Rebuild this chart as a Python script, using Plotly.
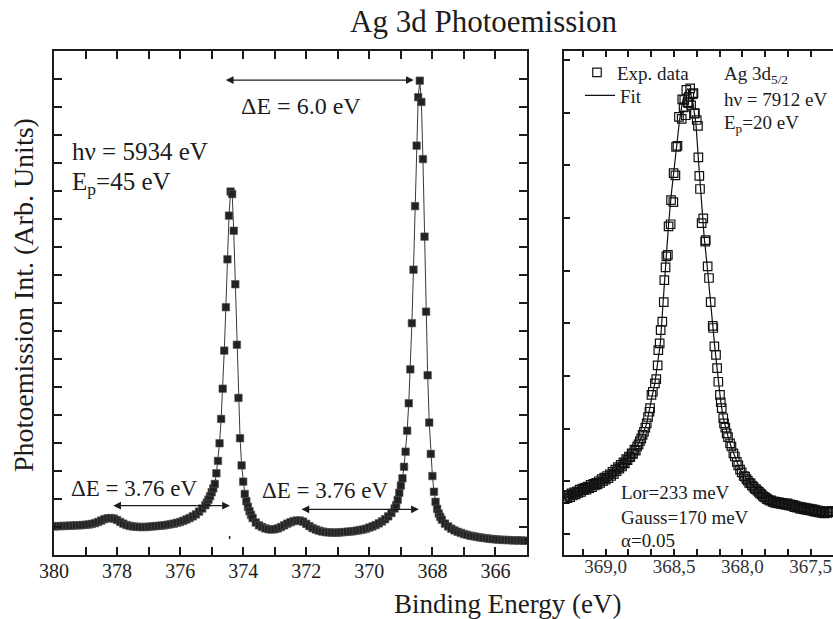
import plotly.graph_objects as go

# ---------------- data ----------------
# Left panel: Ag 3d spectrum (hv = 5934 eV)
left_energy = [
    380.0, 379.9, 379.8, 379.7, 379.6, 379.5, 379.4, 379.3, 379.2, 379.1,
    379.0, 378.9, 378.8, 378.7, 378.6, 378.5, 378.4, 378.3, 378.2, 378.1,
    378.0, 377.9, 377.8, 377.7, 377.6, 377.5, 377.4, 377.3, 377.2, 377.1,
    377.0, 376.9, 376.8, 376.7, 376.6, 376.5, 376.4, 376.3, 376.2, 376.1,
    376.0, 375.9, 375.8, 375.7, 375.6, 375.5, 375.4, 375.3, 375.2, 375.15,
    375.1, 375.05, 375.0, 374.95, 374.9, 374.85, 374.8, 374.75, 374.7, 374.65,
    374.6, 374.55, 374.5, 374.45, 374.4, 374.35, 374.3, 374.25, 374.2, 374.15,
    374.1, 374.05, 374.0, 373.95, 373.9, 373.85, 373.8, 373.75, 373.7, 373.6,
    373.5, 373.4, 373.3, 373.2, 373.1, 373.0, 372.9, 372.8, 372.7, 372.6,
    372.5, 372.4, 372.3, 372.2, 372.1, 372.0, 371.9, 371.8, 371.7, 371.6,
    371.5, 371.4, 371.3, 371.2, 371.1, 371.0, 370.9, 370.8, 370.7, 370.6,
    370.5, 370.4, 370.3, 370.2, 370.1, 370.0, 369.9, 369.8, 369.7, 369.6,
    369.5, 369.4, 369.3, 369.2, 369.15, 369.1, 369.05, 369.0, 368.95, 368.9,
    368.85, 368.8, 368.75, 368.7, 368.65, 368.6, 368.55, 368.5, 368.45, 368.4,
    368.35, 368.3, 368.25, 368.2, 368.15, 368.1, 368.05, 368.0, 367.95, 367.9,
    367.85, 367.8, 367.75, 367.7, 367.6, 367.5, 367.4, 367.3, 367.2, 367.1,
    367.0, 366.9, 366.8, 366.7, 366.6, 366.5, 366.4, 366.3, 366.2, 366.1,
    366.0, 365.9, 365.8, 365.7, 365.6, 365.5, 365.4, 365.3, 365.2, 365.1,
    365.0,
]
left_intensity = [
    1.02, 1.03, 1.03, 1.04, 1.04, 1.05, 1.05, 1.06, 1.06, 1.07,
    1.08, 1.09, 1.11, 1.14, 1.18, 1.23, 1.28, 1.31, 1.32, 1.30,
    1.25, 1.18, 1.12, 1.07, 1.04, 1.02, 1.01, 1.00, 1.00, 1.00,
    1.01, 1.02, 1.03, 1.04, 1.05, 1.06, 1.08, 1.10, 1.12, 1.15,
    1.18, 1.22, 1.27, 1.32, 1.38, 1.45, 1.55, 1.66, 1.78, 1.88,
    1.98, 2.10, 2.24, 2.38, 2.54, 2.92, 3.36, 3.99, 4.86, 5.94,
    7.30, 8.85, 10.56, 12.12, 12.98, 12.89, 11.58, 9.67, 7.51, 5.61,
    4.17, 3.20, 2.62, 2.18, 1.92, 1.72, 1.56, 1.43, 1.32, 1.16,
    1.06, 1.00, 0.95, 0.92, 0.91, 0.92, 0.95, 1.00, 1.06, 1.12,
    1.17, 1.21, 1.23, 1.23, 1.19, 1.11, 1.03, 0.96, 0.91, 0.87,
    0.84, 0.82, 0.81, 0.80, 0.80, 0.80, 0.81, 0.82, 0.83, 0.84,
    0.85, 0.87, 0.89, 0.91, 0.94, 0.98, 1.02, 1.07, 1.13, 1.20,
    1.28, 1.38, 1.50, 1.66, 1.78, 1.97, 2.22, 2.48, 2.74, 3.15,
    3.69, 4.44, 5.42, 6.63, 8.28, 10.19, 12.46, 14.62, 16.35, 16.94,
    16.18, 14.14, 11.37, 8.69, 6.42, 4.73, 3.61, 2.82, 2.26, 1.90,
    1.65, 1.48, 1.36, 1.26, 1.12, 1.02, 0.94, 0.88, 0.83, 0.79,
    0.75, 0.72, 0.69, 0.67, 0.65, 0.63, 0.61, 0.60, 0.58, 0.57,
    0.56, 0.55, 0.54, 0.54, 0.53, 0.53, 0.52, 0.52, 0.52, 0.51,
    0.51,
]

# Right panel: Ag 3d5/2 (hv = 7912 eV) experimental points
exp_energy = [
    369.30, 369.29, 369.28, 369.27, 369.26, 369.25, 369.24, 369.23, 369.22, 369.21,
    369.20, 369.19, 369.18, 369.17, 369.16, 369.15, 369.14, 369.13, 369.12, 369.11,
    369.10, 369.09, 369.08, 369.07, 369.06, 369.05, 369.04, 369.03, 369.02, 369.01,
    369.00, 368.99, 368.98, 368.97, 368.96, 368.95, 368.94, 368.93, 368.92, 368.91,
    368.90, 368.89, 368.88, 368.87, 368.86, 368.85, 368.84, 368.83, 368.82, 368.81,
    368.80, 368.79, 368.78, 368.77, 368.76, 368.75, 368.74, 368.73, 368.72, 368.71,
    368.70, 368.69, 368.68, 368.675, 368.665, 368.655, 368.64, 368.63, 368.62, 368.615,
    368.605, 368.598, 368.586, 368.575, 368.571, 368.562, 368.556, 368.545, 368.54, 368.525,
    368.522, 368.505, 368.503, 368.49, 368.485, 368.475, 368.464, 368.444, 368.44, 368.43,
    368.425, 368.415, 368.41, 368.40, 368.395, 368.388, 368.382, 368.375, 368.363, 368.358,
    368.352, 368.347, 368.334, 368.325, 368.322, 368.315, 368.31, 368.298, 368.286, 368.272,
    368.268, 368.254, 368.244, 368.232, 368.217, 368.213, 368.205, 368.193, 368.185, 368.176,
    368.164, 368.158, 368.151, 368.14, 368.134, 368.125, 368.115, 368.105, 368.09, 368.08,
    368.066, 368.055, 368.041, 368.03, 368.017, 368.005, 367.99, 367.98, 367.97, 367.96,
    367.95, 367.94, 367.93, 367.92, 367.91, 367.90, 367.89, 367.88, 367.87, 367.86,
    367.85, 367.84, 367.83, 367.82, 367.81, 367.80, 367.79, 367.78, 367.77, 367.76,
    367.75, 367.74, 367.73, 367.72, 367.71, 367.70, 367.69, 367.68, 367.67, 367.66,
    367.65, 367.64, 367.63, 367.62, 367.61, 367.60, 367.59, 367.58, 367.57, 367.56,
    367.55, 367.54, 367.53, 367.52, 367.51, 367.50, 367.49, 367.48, 367.47, 367.46,
    367.45, 367.44, 367.43, 367.42, 367.41, 367.40, 367.39, 367.38, 367.37, 367.36,
    367.35, 367.34,
]
exp_intensity = [
    1.66, 1.72, 1.68, 1.74, 1.70, 1.77, 1.73, 1.79, 1.75, 1.81,
    1.78, 1.84, 1.80, 1.86, 1.83, 1.88, 1.84, 1.90, 1.87, 1.93,
    1.89, 1.95, 1.92, 1.97, 1.94, 2.00, 1.97, 2.04, 2.00, 2.07,
    2.03, 2.10, 2.06, 2.13, 2.10, 2.18, 2.14, 2.22, 2.19, 2.27,
    2.24, 2.31, 2.28, 2.36, 2.34, 2.42, 2.40, 2.47, 2.46, 2.53,
    2.52, 2.60, 2.58, 2.66, 2.70, 2.76, 2.81, 2.88, 2.94, 3.02,
    3.10, 3.22, 3.32, 3.39, 3.64, 3.70, 3.86, 3.94, 4.20, 4.49,
    4.62, 4.87, 5.03, 5.40, 5.82, 6.06, 6.27, 6.30, 6.84, 6.88,
    7.34, 7.30, 7.85, 7.81, 8.35, 8.37, 8.92, 8.88, 9.25, 9.10,
    9.24, 8.95, 9.43, 9.20, 9.18, 9.30, 9.46, 9.14, 9.35, 9.37,
    8.98, 8.99, 8.86, 8.75, 8.15, 7.80, 7.55, 6.90, 6.99, 6.55,
    6.58, 6.08, 5.86, 5.40, 4.95, 4.91, 4.56, 4.40, 4.15, 3.89,
    3.64, 3.50, 3.39, 3.20, 3.10, 3.02, 2.91, 2.84, 2.72, 2.66,
    2.53, 2.47, 2.37, 2.30, 2.22, 2.17, 2.10, 2.09, 2.04, 2.01,
    1.97, 1.96, 1.92, 1.90, 1.86, 1.85, 1.82, 1.80, 1.77, 1.75,
    1.72, 1.70, 1.69, 1.66, 1.65, 1.63, 1.64, 1.61, 1.62, 1.59,
    1.61, 1.58, 1.60, 1.57, 1.59, 1.56, 1.58, 1.55, 1.58, 1.54,
    1.56, 1.53, 1.55, 1.51, 1.54, 1.50, 1.52, 1.48, 1.51, 1.47,
    1.50, 1.46, 1.49, 1.45, 1.48, 1.44, 1.47, 1.43, 1.46, 1.42,
    1.45, 1.41, 1.44, 1.40, 1.43, 1.39, 1.42, 1.40, 1.43, 1.41,
    1.44, 1.42,
]

# Right panel: fit curve
fit_energy = [
    369.30, 369.25, 369.20, 369.15, 369.10, 369.05, 369.00, 368.95, 368.90, 368.85,
    368.80, 368.76, 368.73, 368.70, 368.68, 368.66, 368.64, 368.62, 368.60, 368.58,
    368.56, 368.54, 368.52, 368.50, 368.48, 368.46, 368.44, 368.42, 368.40, 368.38,
    368.36, 368.34, 368.32, 368.30, 368.28, 368.26, 368.24, 368.22, 368.20, 368.18,
    368.16, 368.14, 368.12, 368.10, 368.08, 368.06, 368.04, 368.02, 368.00, 367.96,
    367.92, 367.88, 367.84, 367.80, 367.75, 367.70, 367.65, 367.60, 367.55, 367.50,
    367.45, 367.40, 367.34,
]
fit_intensity = [
    1.69, 1.75, 1.80, 1.85, 1.90, 1.95, 2.05, 2.15, 2.29, 2.43,
    2.56, 2.72, 2.88, 3.10, 3.33, 3.62, 3.87, 4.20, 4.62, 5.40,
    6.22, 6.88, 7.45, 7.95, 8.45, 8.85, 9.18, 9.38, 9.45, 9.38,
    9.15, 8.80, 8.05, 7.30, 6.65, 6.15, 5.65, 5.05, 4.50, 4.00,
    3.55, 3.20, 2.97, 2.80, 2.64, 2.50, 2.38, 2.24, 2.14, 2.02,
    1.90, 1.80, 1.71, 1.65, 1.61, 1.58, 1.55, 1.52, 1.49, 1.47,
    1.44, 1.42, 1.41,
]

right_tick_vals = [369.0, 368.5, 368.0, 367.5]
right_tick_text = ["369,0", "368,5", "368,0", "367,5"]

# ---------------- figure ----------------
W, H = 833, 619
FONT = "Liberation Serif, Times New Roman, serif"
INK = "#1c1c1c"


def fx(px):
    return px / W


def fy(py):
    return 1 - py / H


fig = go.Figure()
fig.add_trace(go.Scatter(
    x=left_energy, y=left_intensity, mode="lines+markers", xaxis="x", yaxis="y",
    line=dict(color="#3a3a3a", width=1),
    marker=dict(symbol="square", size=7.5, color="#222222",
                line=dict(width=0.6, color="#555555")),
    showlegend=False,
))
fig.add_trace(go.Scatter(
    x=exp_energy, y=exp_intensity, mode="markers", name="Exp. data",
    xaxis="x2", yaxis="y2", legend="legend",
    marker=dict(symbol="square-open", size=8.5, color="#111111", line=dict(width=1.2)),
))
fig.add_trace(go.Scatter(
    x=fit_energy, y=fit_intensity, mode="lines", name="Fit",
    xaxis="x2", yaxis="y2", legend="legend2",
    line=dict(color="#111111", width=1.2),
))

ydom = [fy(555), fy(51)]
common = dict(showgrid=False, zeroline=False, showline=True, linecolor=INK,
              linewidth=2, ticks="inside", tickcolor=INK)
legend_common = dict(xanchor="left", yanchor="middle",
                     font=dict(family=FONT, size=19, color=INK),
                     bgcolor="rgba(0,0,0,0)", borderwidth=0)

fig.update_layout(
    width=W, height=H,
    margin=dict(l=0, r=0, t=0, b=0, autoexpand=False),
    paper_bgcolor="white", plot_bgcolor="white",
    font=dict(family=FONT, color=INK),
    xaxis=dict(domain=[fx(54), fx(527)], range=[380, 365], tickmode="linear",
               tick0=380, dtick=2, ticklen=8, tickwidth=2, mirror="ticks",
               ticklabelstandoff=-3,
               minor=dict(tickmode="linear", tick0=380, dtick=1, ticks="inside",
                          ticklen=8, tickwidth=2, tickcolor=INK),
               tickfont=dict(family=FONT, size=20, color=INK), anchor="y", **common),
    yaxis=dict(domain=ydom, range=[0, 18], tickmode="linear", tick0=0, dtick=1,
               showticklabels=False, ticklen=8, tickwidth=2, mirror="ticks",
               anchor="x", **common),
    xaxis2=dict(domain=[fx(564), 1.0], range=[369.305, 367.337], tickmode="array",
                tickvals=right_tick_vals, ticktext=right_tick_text,
                ticklen=6, tickwidth=1.5, mirror="ticks", ticklabelstandoff=-7,
                minor=dict(tickmode="linear", tick0=369.0, dtick=1 / 6, ticks="inside",
                           ticklen=6, tickwidth=1.5, tickcolor=INK),
                tickfont=dict(family=FONT, size=19, color="#333333"), anchor="y2", **common),
    yaxis2=dict(domain=ydom, range=[0.6, 10.17], tickmode="linear", tick0=0, dtick=1,
                showticklabels=False, ticklen=6, tickwidth=1.5, mirror=False,
                anchor="x2", **common),
    yaxis3=dict(overlaying="y2", anchor="x2", side="right", range=[0.6, 10.17],
                tickmode="linear", tick0=0, dtick=1, showticklabels=False,
                showline=False, showgrid=False, zeroline=False, ticks="inside",
                ticklen=3, tickwidth=1.5, tickcolor=INK),
    legend=dict(x=fx(577), y=fy(72.5), **legend_common),
    legend2=dict(x=fx(580), y=fy(95.5), **legend_common),
    showlegend=True,
)


def text(t, x, y, size, anchor="left", angle=0):
    fig.add_annotation(text=t, x=fx(x), y=fy(y), xref="paper", yref="paper",
                       xanchor=anchor, yanchor="middle", showarrow=False,
                       textangle=angle, font=dict(family=FONT, size=size, color=INK))


text("Ag 3d Photoemission", 483, 22, 31, anchor="center")
text("Binding Energy (eV)", 507, 604, 27, anchor="center")
text("Photoemission Int. (Arb. Units)", 23, 295, 28, anchor="center", angle=-90)

text("hν = 5934 eV", 70, 152, 25)
text("E<sub>p</sub>=45 eV", 70, 183, 25)
text("ΔE = 6.0 eV", 239, 106, 24)
text("ΔE = 3.76 eV", 69, 488, 23)
text("ΔE = 3.76 eV", 260, 490, 23)

text("Ag 3d<sub>5/2</sub>", 722, 75, 19)
text("hν = 7912 eV", 722, 100, 19)
text("E<sub>p</sub>=20 eV", 722, 124, 19)
text("Lor=233 meV", 619, 492, 19)
text("Gauss=170 meV", 619, 517, 19)
text("α=0.05", 619, 540, 19)


def double_arrow(x0, x1, y):
    fig.add_annotation(x=x1, y=y, ax=x0, ay=y, xref="x", yref="y", axref="x", ayref="y",
                       text="", showarrow=True, arrowside="end+start",
                       arrowhead=2, startarrowhead=2, arrowsize=1.2, startarrowsize=1.2,
                       arrowwidth=1.3, arrowcolor=INK, standoff=0, startstandoff=0)


double_arrow(374.60, 368.59, 16.96)
double_arrow(378.17, 374.42, 1.76)
double_arrow(372.20, 368.43, 1.63)

fig.add_shape(type="line", xref="x", yref="y", x0=374.43, x1=374.43, y0=0.57, y1=0.68,
              line=dict(color=INK, width=1.5))

fig.write_html("out.html")
